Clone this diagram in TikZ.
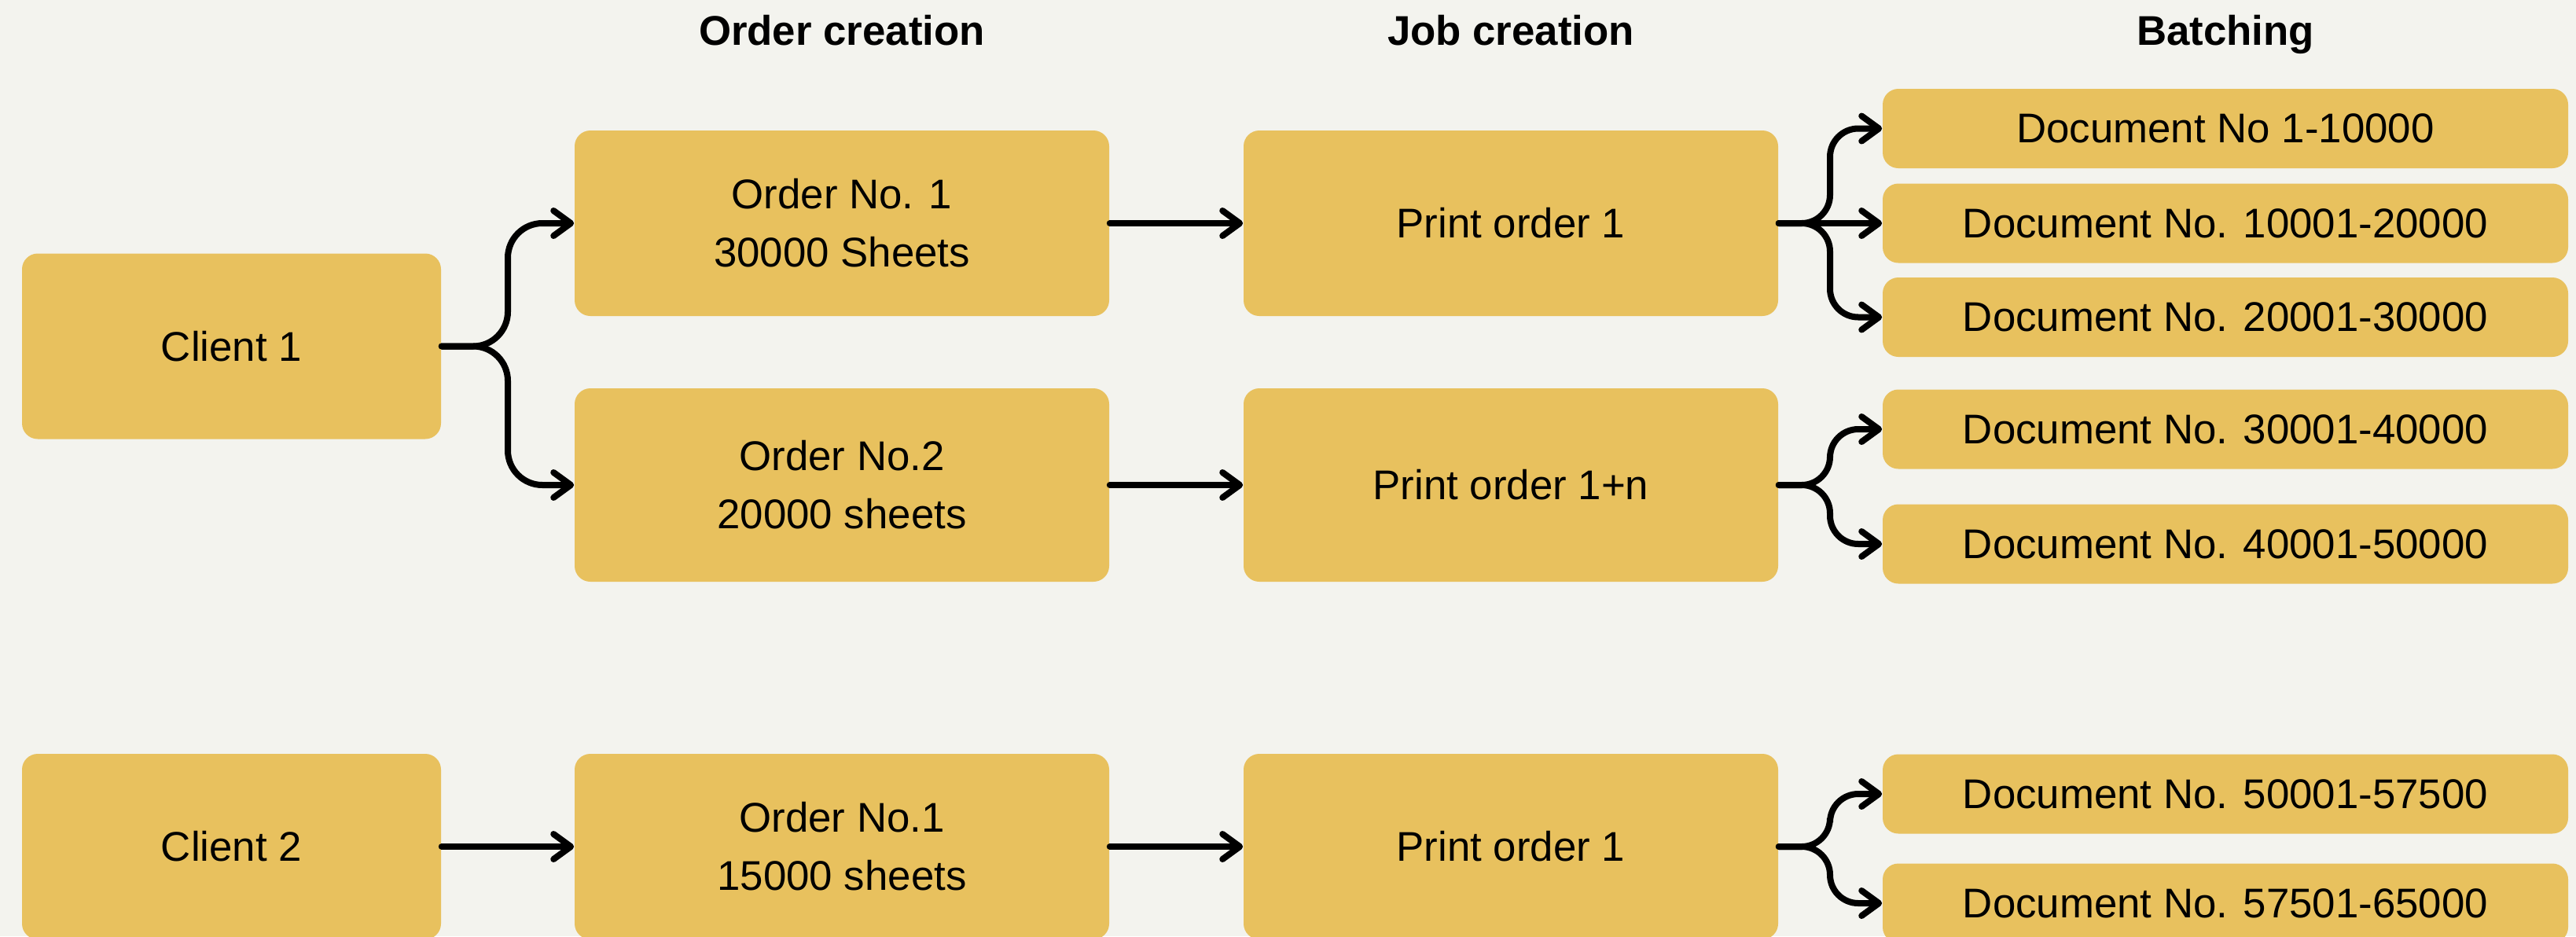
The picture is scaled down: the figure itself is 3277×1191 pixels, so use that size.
\documentclass[tikz,border=0pt]{standalone}
\usepackage{fontspec}
\setmainfont{Liberation Sans}
\usetikzlibrary{arrows.meta}
\definecolor{bgc}{HTML}{F3F3EE}
\definecolor{boxc}{HTML}{E8C15E}
\tikzset{
  box/.style={fill=boxc, rounded corners=5pt, align=center, inner sep=0pt,
    font=\fontsize{13.2}{18.5}\selectfont},
  big/.style={box, minimum width=170pt, minimum height=59pt},
  bigt/.style={box, minimum width=170pt, minimum height=61.5pt},
  cli/.style={box, minimum width=133.25pt, minimum height=59pt},
  doc/.style={box, minimum width=218pt, minimum height=25.25pt},
  head/.style={anchor=base, font=\fontsize{13.2}{16}\selectfont\bfseries},
  conn/.style={line width=2pt, rounded corners=9pt, line cap=round,
    -{Straight Barb[length=5.5pt,width=8pt,round]}},
  wide/.style={rounded corners=11pt}
}
\begin{document}
\begin{tikzpicture}[x=0.25pt,y=-0.25pt]
\useasboundingbox (0,0) rectangle (3277,1191);
\fill[bgc] (0,0) rectangle (3277,1191);
% headings
\node[head] (h1) at (1071,57) {Order creation};
\node[head] (h2) at (1922,57) {Job creation};
\node[head] (h3) at (2831,57) {Batching};
% clients
\node[cli] (c1) at (294.5,440.5) {Client 1};
\node[cli] (c2) at (294.5,1077) {Client 2};
% orders
\node[big] (o1) at (1071,284) {Order No. 1\\30000 Sheets};
\node[bigt] (o2) at (1071,617) {Order No.2\\20000 sheets};
\node[big] (o3) at (1071,1077) {Order No.1\\15000 sheets};
% print orders
\node[big] (p1) at (1922,284) {Print order 1};
\node[bigt] (p2) at (1922,617) {Print order 1+n};
\node[big] (p3) at (1922,1077) {Print order 1};
% documents
\node[doc] (d1) at (2831,163.5) {Document No 1-10000};
\node[doc] (d2) at (2831,284) {Document No. 10001-20000};
\node[doc] (d3) at (2831,403.5) {Document No. 20001-30000};
\node[doc] (d4) at (2831,546) {Document No. 30001-40000};
\node[doc] (d5) at (2831,692) {Document No. 40001-50000};
\node[doc] (d6) at (2831,1010) {Document No. 50001-57500};
\node[doc] (d7) at (2831,1149) {Document No. 57501-65000};
% junctions
\coordinate (j1) at (646,440.5);
\coordinate (j2) at (2328,284);
\coordinate (j3) at (2328,617);
\coordinate (j4) at (2328,1077);
% connectors
\draw[conn,wide] (c1.east) -- (j1) |- (o1.west);
\draw[conn,wide] (c1.east) -- (j1) |- (o2.west);
\draw[conn] (c2.east) -- (o3.west);
\draw[conn] (o1.east) -- (p1.west);
\draw[conn] (o2.east) -- (p2.west);
\draw[conn] (o3.east) -- (p3.west);
\draw[conn] (p1.east) -- (j2) |- (d1.west);
\draw[conn] (p1.east) -- (d2.west);
\draw[conn] (p1.east) -- (j2) |- (d3.west);
\draw[conn] (p2.east) -- (j3) |- (d4.west);
\draw[conn] (p2.east) -- (j3) |- (d5.west);
\draw[conn] (p3.east) -- (j4) |- (d6.west);
\draw[conn] (p3.east) -- (j4) |- (d7.west);
\end{tikzpicture}
\end{document}
